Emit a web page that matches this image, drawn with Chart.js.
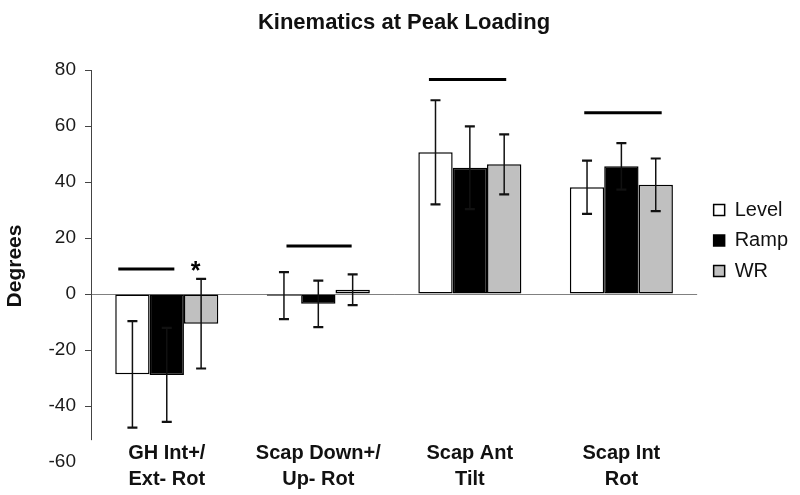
<!DOCTYPE html>
<html>
<head>
<meta charset="utf-8">
<script src="https://cdn.jsdelivr.net/npm/chart.js@4/dist/chart.umd.min.js"></script>
<style>
  html, body { margin: 0; padding: 0; background: #ffffff; }
  #wrap { width: 800px; height: 495px; }
</style>
</head>
<body>
<div id="wrap"><canvas id="kinChart" width="800" height="495"></canvas></div>
<script>
// Data (mean and SD, degrees)
const categories = [['GH Int+/', 'Ext- Rot'], ['Scap Down+/', 'Up- Rot'], ['Scap Ant', 'Tilt'], ['Scap Int', 'Rot']];
const levelMean = [-28.7, -0.6, 50.6, 38.1];
const levelSD = [19.0, 8.4, 18.6, 9.5];
const rampMean = [-28.9, -3.5, 45.1, 45.6];
const rampSD = [16.8, 8.3, 14.8, 8.3];
const wrMean = [-10.6, 1.5, 46.3, 39.0];
const wrSD = [16.0, 5.5, 10.7, 9.4];

// Significance bars over each group: start/end in category units, height in degrees
const sigFrom = [-0.32, 0.79, 1.73, 2.755];
const sigTo = [0.05, 1.22, 2.24, 3.266];
const sigValue = [8.9, 17.1, 76.6, 64.7];
// Asterisk on the first group
const starCat = [0.19];
const starValue = [9.3];

const yTicks = [-60, -40, -20, 0, 20, 40, 60, 80];
const axisLow = -52.2;

const FONT = '"Liberation Sans", Arial, sans-serif';

const errorBars = {
  id: 'errorBars',
  afterDatasetsDraw(chart) {
    const ctx = chart.ctx;
    const y = chart.scales.y;
    const sds = [levelSD, rampSD, wrSD];
    ctx.save();
    ctx.strokeStyle = '#111';
    chart.data.datasets.forEach((ds, i) => {
      const meta = chart.getDatasetMeta(i);
      meta.data.forEach((bar, j) => {
        const top = y.getPixelForValue(ds.data[j] + sds[i][j]);
        const bot = y.getPixelForValue(ds.data[j] - sds[i][j]);
        ctx.lineWidth = 1.5;
        ctx.beginPath();
        ctx.moveTo(bar.x, top);
        ctx.lineTo(bar.x, bot);
        ctx.stroke();
        ctx.lineWidth = 2.2;
        ctx.beginPath();
        ctx.moveTo(bar.x - 5, top);
        ctx.lineTo(bar.x + 5, top);
        ctx.moveTo(bar.x - 5, bot);
        ctx.lineTo(bar.x + 5, bot);
        ctx.stroke();
      });
    });
    ctx.restore();
  }
};

const annotations = {
  id: 'annotations',
  afterLayout(chart) {
    // nudge title and legend to where the original figure has them
    chart.titleBlock.left += 8;
    chart.titleBlock.right += 8;
    chart.legend.left += 6;
    chart.legend.right += 6;
  },
  afterDatasetsDraw(chart) {
    const ctx = chart.ctx;
    const x = chart.scales.x;
    const y = chart.scales.y;
    ctx.save();
    // significance lines
    ctx.strokeStyle = '#000';
    ctx.lineWidth = 3;
    sigValue.forEach((v, i) => {
      const py = y.getPixelForValue(v);
      ctx.beginPath();
      ctx.moveTo(x.getPixelForValue(sigFrom[i]), py);
      ctx.lineTo(x.getPixelForValue(sigTo[i]), py);
      ctx.stroke();
    });
    // asterisk
    ctx.fillStyle = '#000';
    ctx.font = 'bold 25px ' + FONT;
    ctx.textAlign = 'center';
    ctx.textBaseline = 'alphabetic';
    starCat.forEach((c, i) => {
      ctx.fillText('*', x.getPixelForValue(c), y.getPixelForValue(starValue[i]) + 11);
    });
    // y axis line (stops short of the bottom tick, as in the figure)
    ctx.strokeStyle = '#444';
    ctx.lineWidth = 1;
    const ax = Math.round(chart.chartArea.left) + 0.5;
    ctx.beginPath();
    ctx.moveTo(ax, y.getPixelForValue(80));
    ctx.lineTo(ax, y.getPixelForValue(axisLow));
    ctx.stroke();
    ctx.restore();
  }
};

new Chart(document.getElementById('kinChart'), {
  type: 'bar',
  data: {
    labels: categories,
    datasets: [
      { label: 'Level', data: levelMean, backgroundColor: '#ffffff', borderColor: '#000', borderWidth: 1.5, borderSkipped: false },
      { label: 'Ramp', data: rampMean, backgroundColor: '#000000', borderColor: '#000', borderWidth: 1.5, borderSkipped: false },
      { label: 'WR', data: wrMean, backgroundColor: '#c0c0c0', borderColor: '#000', borderWidth: 1.5, borderSkipped: false }
    ]
  },
  options: {
    responsive: false,
    animation: false,
    devicePixelRatio: 1,
    categoryPercentage: 0.68,
    barPercentage: 1.0,
    layout: { padding: { left: 0, right: 8, top: 0, bottom: 0 } },
    scales: {
      x: {
        grid: { display: false, drawTicks: false },
        border: { display: false },
        ticks: {
          color: '#111',
          mirror: true,
          padding: -4,
          font: { family: FONT, size: 20, weight: 'bold', lineHeight: 1.3 }
        },
        afterFit: (s) => { s.height = 33; }
      },
      y: {
        min: -60,
        max: 80,
        afterBuildTicks: (s) => { s.ticks = yTicks.map(v => ({ value: v })); },
        grid: {
          drawOnChartArea: true,
          drawTicks: true,
          tickLength: 6,
          color: (c) => (c.tick && c.tick.value === 0 ? '#808080' : 'rgba(0,0,0,0)'),
          tickColor: (c) => (c.tick && c.tick.value === -60 ? 'rgba(0,0,0,0)' : '#444')
        },
        border: { display: false },
        ticks: {
          color: '#1a1a1a',
          padding: 9,
          font: { family: FONT, size: 19 }
        },
        title: {
          display: true,
          text: 'Degrees',
          color: '#111',
          padding: { top: 3, bottom: 0 },
          font: { family: FONT, size: 21, weight: 'bold' }
        },
        afterFit: (s) => { s.width = 91; }
      }
    },
    plugins: {
      title: {
        display: true,
        text: 'Kinematics at Peak Loading',
        color: '#111',
        padding: { top: 10, bottom: 33.6 },
        font: { family: FONT, size: 22, weight: 'bold', lineHeight: 1.2 }
      },
      legend: {
        position: 'right',
        align: 'start',
        fullSize: false,
        title: { display: true, text: '', padding: { top: 109.5, bottom: 0 }, font: { size: 10, lineHeight: 1 } },
        labels: {
          boxWidth: 11,
          boxHeight: 11,
          padding: 10.5,
          color: '#111',
          font: { family: FONT, size: 20 }
        }
      },
      tooltip: { enabled: false }
    }
  },
  plugins: [errorBars, annotations]
});
</script>
</body>
</html>
